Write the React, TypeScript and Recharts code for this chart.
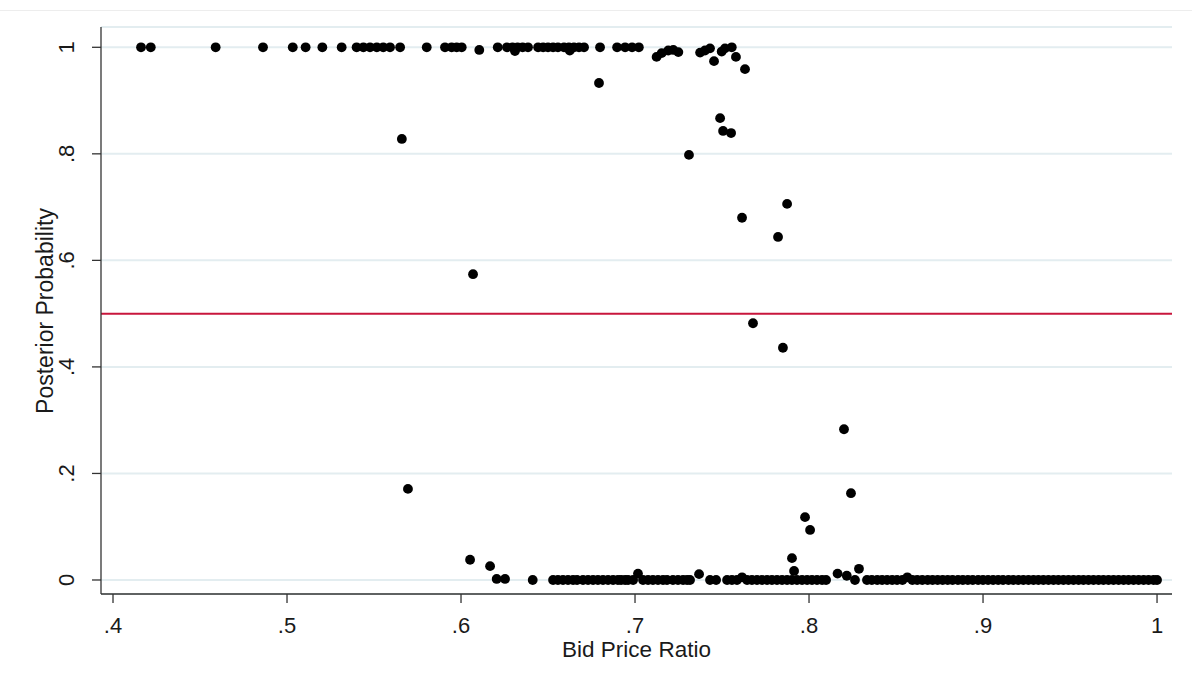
import React from "react";
import {
  ScatterChart, Scatter, XAxis, YAxis, CartesianGrid, ReferenceLine, Label,
} from "recharts";

// bid price ratios whose posterior probability sits on 1
const ceilingRatios = [
  0.4161, 0.4217, 0.459, 0.4862, 0.5033, 0.5107, 0.5203, 0.5314, 0.54, 0.5439,
  0.5477, 0.5516, 0.5553, 0.5592, 0.565, 0.5803, 0.5908, 0.5946, 0.5975, 0.6004,
  0.6211, 0.6264, 0.6296, 0.6325, 0.6354, 0.6385, 0.6443, 0.6472, 0.65, 0.6529,
  0.6557, 0.6592, 0.662, 0.6649, 0.6678, 0.6707, 0.6799, 0.6897, 0.6943, 0.6983,
  0.7022,
];

// bid price ratios whose posterior probability sits on 0
const floorRatios = [
  0.6412, 0.6529, 0.6557, 0.6586, 0.6615, 0.6644, 0.6667, 0.6701, 0.673, 0.6759,
  0.6787, 0.6816, 0.6845, 0.6874, 0.6902, 0.692, 0.6943, 0.696, 0.6989, 0.7046,
  0.7075, 0.7103, 0.7132, 0.7161, 0.7184, 0.7218, 0.7247, 0.7276, 0.7299, 0.7316,
  0.7431, 0.7466, 0.7529, 0.7557, 0.7586, 0.7644, 0.7672, 0.7701, 0.773, 0.7759,
  0.7787, 0.7816, 0.7845, 0.7874, 0.7902, 0.7931, 0.796, 0.7989, 0.8017, 0.8046,
  0.8075, 0.8098, 0.8264, 0.8333, 0.8361, 0.8392, 0.842, 0.8449, 0.8478, 0.8506,
  0.8537, 0.8594, 0.8622, 0.8651, 0.8682, 0.871, 0.8739, 0.8768, 0.8797, 0.8825,
  0.8856, 0.8884, 0.8913, 0.8941, 0.8972, 0.9, 0.9029, 0.9058, 0.9087, 0.9115,
  0.9146, 0.9174, 0.9203, 0.9232, 0.9261, 0.929, 0.9318, 0.9347, 0.9376, 0.9405,
  0.9433, 0.9462, 0.9491, 0.952, 0.9549, 0.9577, 0.9606, 0.9635, 0.9664, 0.9692,
  0.9721, 0.975, 0.9779, 0.9808, 0.9836, 0.9865, 0.9894, 0.9923, 0.9951, 0.998,
  1.0,
];

// remaining observations: ratio and posterior probability
const otherRatios = [
  0.6105, 0.631, 0.6625, 0.7124, 0.7153, 0.7191, 0.722, 0.7249, 0.7374, 0.7402,
  0.7431, 0.7454, 0.7498, 0.7517, 0.7556, 0.758, 0.7632, 0.6793, 0.566, 0.6069,
  0.5695, 0.731, 0.7489, 0.7506, 0.7552, 0.7615, 0.7874, 0.7822, 0.7678, 0.785,
  0.8201, 0.8241, 0.7977, 0.8006, 0.7902, 0.7914, 0.6052, 0.6167, 0.8287, 0.8164,
  0.8217, 0.7368, 0.7017, 0.7615, 0.8565, 0.6205, 0.6253,
];
const otherProbs = [
  0.995, 0.993, 0.994, 0.982, 0.989, 0.994, 0.995, 0.991, 0.99, 0.994,
  0.998, 0.974, 0.992, 0.998, 1.0, 0.982, 0.959, 0.933, 0.828, 0.574,
  0.171, 0.798, 0.867, 0.843, 0.839, 0.68, 0.706, 0.644, 0.482, 0.436,
  0.283, 0.163, 0.118, 0.094, 0.041, 0.017, 0.038, 0.026, 0.021, 0.012,
  0.008, 0.011, 0.012, 0.005, 0.005, 0.002, 0.002,
];

const xTicks = [0.4, 0.5, 0.6, 0.7, 0.8, 0.9, 1];
const yTicks = [0, 0.2, 0.4, 0.6, 0.8, 1];
const cutoff = 0.5;

const points = [
  ...ceilingRatios.map((x) => ({ x, y: 1 })),
  ...floorRatios.map((x) => ({ x, y: 0 })),
  ...otherRatios.map((x, i) => ({ x, y: otherProbs[i] })),
];

const FONT = "'Liberation Sans', Arial, sans-serif";
const TEXT = "#1a1a1a";

// stata style: ".4" instead of "0.4"
const fmt = (v: number) => (v === 0 || v === 1 ? String(v) : String(v).replace(/^0/, ""));

const XTick = (props: any) => {
  const { x, payload } = props;
  return (
    <text x={x} y={633} textAnchor="middle" fontFamily={FONT} fontSize={22} fill={TEXT}>
      {fmt(payload.value)}
    </text>
  );
};

const YTick = (props: any) => {
  const { y, payload } = props;
  return (
    <text
      x={67}
      y={y}
      textAnchor="middle"
      dominantBaseline="central"
      transform={`rotate(-90 67 ${y})`}
      fontFamily={FONT}
      fontSize={22}
      fill={TEXT}
    >
      {fmt(payload.value)}
    </text>
  );
};

const Dot = (props: any) => <circle cx={props.cx} cy={props.cy} r={4.9} fill="#000" />;

export default function App() {
  return (
    <div style={{ position: "absolute", left: 0, top: 0, width: 1192, height: 681, background: "#fff" }}>
      <div style={{ position: "absolute", left: 0, top: 10, width: 1192, height: 1, background: "#ededed" }} />
      <ScatterChart width={1192} height={681} margin={{ top: 27, right: 20, bottom: 0, left: 0 }}>
        <CartesianGrid vertical={false} stroke="#e3edf0" strokeWidth={2} />
        <XAxis
          type="number"
          dataKey="x"
          domain={[0.3931, 1.0086]}
          ticks={xTicks}
          allowDataOverflow
          height={87}
          tickSize={9}
          tick={<XTick />}
          axisLine={{ stroke: "#333", strokeWidth: 1.3 }}
          tickLine={{ stroke: "#333", strokeWidth: 1.3 }}
        >
          <Label
            content={() => (
              <text x={636.5} y={657} textAnchor="middle" fontFamily={FONT} fontSize={22.5} fill={TEXT}>
                Bid Price Ratio
              </text>
            )}
          />
        </XAxis>
        <YAxis
          type="number"
          dataKey="y"
          domain={[-0.0263, 1.0381]}
          ticks={yTicks}
          allowDataOverflow
          width={101}
          tickSize={9}
          tick={<YTick />}
          axisLine={{ stroke: "#333", strokeWidth: 1.3 }}
          tickLine={{ stroke: "#333", strokeWidth: 1.3 }}
        >
          <Label
            content={() => (
              <text
                x={45}
                y={311}
                textAnchor="middle"
                dominantBaseline="central"
                transform="rotate(-90 45 311)"
                fontFamily={FONT}
                fontSize={23}
                fill={TEXT}
              >
                Posterior Probability
              </text>
            )}
          />
        </YAxis>
        <ReferenceLine y={cutoff} stroke="#c8163c" strokeWidth={2} />
        <Scatter data={points} fill="#000" shape={<Dot />} isAnimationActive={false} />
      </ScatterChart>
    </div>
  );
}
